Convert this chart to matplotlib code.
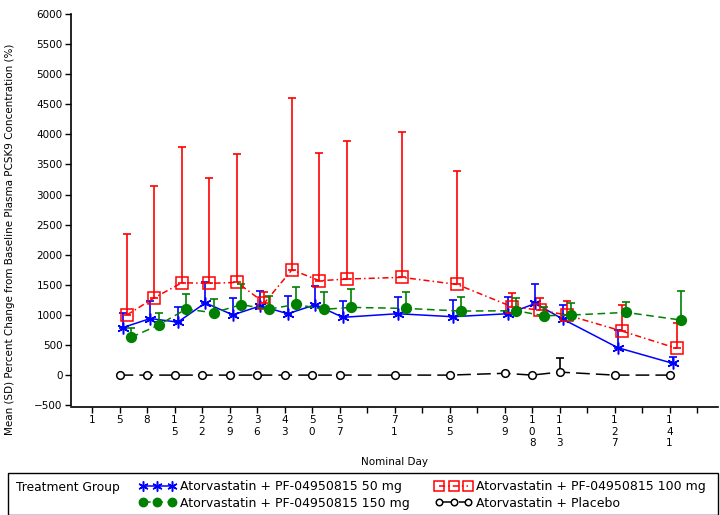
import matplotlib
matplotlib.use('Agg')
import matplotlib.pyplot as plt
from matplotlib.patches import Rectangle
import numpy as np

# x axis: one slot per nominal visit day, some slots left unlabeled
slot_days = [1, 5, 8, 15, 22, 29, 36, 43, 50, 57, 64, 71, 78, 85, 92, 99,
             108, 113, 120, 127, 134, 141, 148]
labeled_days = [1, 5, 8, 15, 22, 29, 36, 43, 50, 57, 71, 85, 99, 108, 113, 127, 141]

# days with data
days = [5, 8, 15, 22, 29, 36, 43, 50, 57, 71, 85, 99, 108, 113, 127, 141]

# mean and mean+SD (%)
mean_50 = [790, 940, 880, 1200, 1000, 1150, 1020, 1170, 960, 1020, 970, 1020, 1190, 930, 455, 195]
upper_50 = [1036, 1230, 1125, 1540, 1275, 1400, 1310, 1480, 1235, 1290, 1240, 1300, 1520, 1165, 750, 295]

mean_100 = [1000, 1286, 1535, 1524, 1541, 1200, 1750, 1568, 1596, 1624, 1507, 1136, 1081, 998, 731, 443]
upper_100 = [2339, 3147, 3796, 3270, 3674, 1375, 4611, 3696, 3890, 4035, 3386, 1368, 1275, 1230, 1164, 859]

mean_150 = [627, 831, 1097, 1036, 1170, 1095, 1175, 1092, 1125, 1108, 1064, 1070, 986, 998, 1042, 914]
upper_150 = [776, 1036, 1347, 1258, 1510, 1310, 1458, 1375, 1425, 1375, 1302, 1286, 1136, 1192, 1208, 1402]

mean_pbo = [0, 0, 0, 0, 0, 0, 0, 0, 0, 0, 0, 30, 0, 50, 0, 0]
upper_pbo = [0, 0, 0, 0, 0, 0, 0, 0, 0, 0, 0, 30, 0, 277, 0, 0]

labels = ['Atorvastatin + PF-04950815 50 mg',
          'Atorvastatin + PF-04950815 100 mg',
          'Atorvastatin + PF-04950815 150 mg',
          'Atorvastatin + Placebo']

plt.rcParams['font.family'] = 'DejaVu Sans'

fig = plt.figure(figsize=(7.2, 5.15), dpi=100)
ax = fig.add_axes([71 / 720, 1 - 407 / 515, 647 / 720, 393 / 515])

xpos = np.array([slot_days.index(d) for d in days], dtype=float)

series = [
    # mean, upper, colour, offset, marker, ms, fill, linestyle
    (mean_pbo, upper_pbo, 'black', 0.0, 'o', 5.5, 'white', (0, (9, 4))),
    (mean_50, upper_50, 'blue', 0.12, (6, 2, 0), 8.5, 'blue', '-'),
    (mean_100, upper_100, 'red', 0.27, 's', 8, 'none', (0, (4, 2, 1, 2))),
    (mean_150, upper_150, 'green', 0.42, 'o', 7, 'green', (0, (5, 3))),
]

handles = {}
for mean, upper, col, off, mk, ms, fc, ls in series:
    m = np.array(mean)
    up = np.array(upper) - m
    x = xpos + off
    ax.errorbar(x, m, yerr=[np.zeros_like(up), up], fmt='none', ecolor=col,
                elinewidth=1.2, capsize=3, capthick=1.2)
    ln, = ax.plot(x, m, color=col, linestyle=ls, linewidth=1.1, marker=mk,
                  markersize=ms, markerfacecolor=fc, markeredgecolor=col,
                  markeredgewidth=1.1)
    handles[col] = ln

ax.set_xlim(-0.764, 22.76)
ax.set_ylim(-530, 6000)
ax.set_yticks(np.arange(-500, 6001, 500))
ax.set_yticklabels([str(v).replace('-', '\u2212') for v in range(-500, 6001, 500)])

ax.set_xticks(range(len(slot_days)))
ax.set_xticklabels(['\n'.join(str(d)) if d in labeled_days else '' for d in slot_days],
                   linespacing=1.15, va='top')

ax.tick_params(axis='both', direction='out', length=4, width=1, labelsize=7.5, pad=2)
for s in ['top', 'right']:
    ax.spines[s].set_visible(False)
for s in ['left', 'bottom']:
    ax.spines[s].set_linewidth(1.2)
ax.spines['left'].set_bounds(-500, 6000)

ax.set_ylabel('Mean (SD) Percent Change from Baseline Plasma PCSK9 Concentration (%)',
              fontsize=7.5)
ax.yaxis.set_label_coords(-0.087, 0.427)
fig.text(394 / 720, 1 - 462 / 515, 'Nominal Day', fontsize=7.5, ha='center', va='center')

# legend box
fig.patches.append(Rectangle((8 / 720, 0), 710 / 720, 1 - 473 / 515,
                             transform=fig.transFigure, fill=False,
                             edgecolor='black', linewidth=1))
fig.text(16 / 720, 1 - 488 / 515, 'Treatment Group', fontsize=8.8, va='center')
leg = fig.legend([handles['blue'], handles['green'], handles['red'], handles['black']],
                 [labels[0], labels[2], labels[1], labels[3]],
                 ncol=2, loc='upper left', bbox_to_anchor=(139 / 720, 1 - 480 / 515),
                 frameon=False, fontsize=9, numpoints=3, handlelength=2.9,
                 handletextpad=0.35, columnspacing=2.1, labelspacing=0.3,
                 borderpad=0, borderaxespad=0, markerscale=0.85)

fig.savefig('out.png', dpi=100)
